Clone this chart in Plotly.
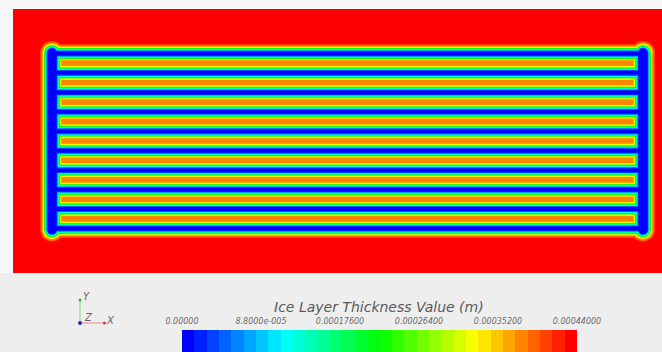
import colorsys
import numpy as np
import plotly.graph_objects as go

# ---------------- data ----------------
VMAX = 0.00044                      # max ice layer thickness (m)
N_BANDS = 32                        # discrete colour bands of the legend
TICK_VALUES = [0.0, 0.000088, 0.000176, 0.000264, 0.000352, 0.00044]
TICK_LABELS = ["0.00000", "8.8000e-005", "0.00017600", "0.00026400",
               "0.00035200", "0.00044000"]
COLORBAR_TITLE = "Ice Layer Thickness Value (m)"

# plate / tube geometry (mm)
PLATE_W = 649
PLATE_H = 264
TUBE_Y = [220.5, 201.1, 181.6, 162.2, 142.7, 123.3, 103.9, 84.4, 65.0, 45.5]
TUBE_X_START = 38
TUBE_X_END = 629
HEADER_X = [38, 629]
HEADER_Y_START = 44.5
HEADER_Y_END = 221.0
HEADER_HALF_WIDTH = 2.5

# ice thickness (fraction of max) vs distance from tube axis (mm)
PROFILE_D = [0.0, 2.0, 3.0, 4.0, 5.0, 6.0, 7.0, 7.5, 9.0, 10.0, 11.0]
PROFILE_F = [0.0, 0.04, 0.17, 0.35, 0.53, 0.70, 0.82, 0.86, 0.92, 0.97, 1.0]
INNER_CAP = 0.86                    # plateau between neighbouring tubes

# ---------------- field ----------------
xs = np.arange(0.5, PLATE_W, 1.0)
ys = np.arange(0.5, PLATE_H, 1.0)
X, Y = np.meshgrid(xs, ys)

dist = np.full(X.shape, 1e9)
dxt = np.maximum(0, np.maximum(TUBE_X_START - X, X - TUBE_X_END))
for ty in TUBE_Y:
    dist = np.minimum(dist, np.hypot(dxt, Y - ty))
dyh = np.maximum(0, np.maximum(HEADER_Y_START - Y, Y - HEADER_Y_END))
for hx in HEADER_X:
    dh = np.maximum(0, np.hypot(X - hx, dyh) - HEADER_HALF_WIDTH)
    dist = np.minimum(dist, dh)

frac = np.interp(dist, PROFILE_D, PROFILE_F)
inside = (Y > min(TUBE_Y)) & (Y < max(TUBE_Y)) & (X > TUBE_X_START) & (X < TUBE_X_END)
frac = np.where(inside, np.minimum(frac, INNER_CAP), frac)
Z = np.round(frac * VMAX, 7)

# discrete HSV rainbow (blue -> red)
colorscale = []
for k in range(N_BANDS):
    h = (240.0 * (1 - k / (N_BANDS - 1))) / 360.0
    r, g, b = colorsys.hsv_to_rgb(h, 1, 1)
    c = f"rgb({int(round(r*255))},{int(round(g*255))},{int(round(b*255))})"
    colorscale.append([k / N_BANDS, c])
    colorscale.append([(k + 1) / N_BANDS, c])

band_centers = [(k + 0.5) / N_BANDS * VMAX for k in range(N_BANDS)]

fig = go.Figure()
fig.add_trace(go.Heatmap(
    x=xs, y=ys, z=Z, colorscale=colorscale, zmin=0, zmax=VMAX,
    zsmooth="best", showscale=False, hoverinfo="skip",
    xaxis="x", yaxis="y"))
fig.add_trace(go.Heatmap(
    x=band_centers, y=[0], z=[band_centers], colorscale=colorscale,
    zmin=0, zmax=VMAX, showscale=False, hoverinfo="skip",
    xaxis="x2", yaxis="y2"))

W, H = 662, 352
label_font = dict(family="DejaVu Sans", size=10, color="#666", style="italic")
fig.update_layout(
    width=W, height=H,
    margin=dict(l=0, r=0, t=0, b=0),
    paper_bgcolor="#f7f7f7", plot_bgcolor="#ff0000",
    showlegend=False,
    xaxis=dict(domain=[13 / W, 1], range=[0, PLATE_W], visible=False, fixedrange=True),
    yaxis=dict(domain=[(H - 273) / H, (H - 9) / H], range=[0, PLATE_H],
               visible=False, fixedrange=True),
    xaxis2=dict(domain=[182 / W, 577 / W], range=[0, VMAX], anchor="y2", side="top",
                tickvals=TICK_VALUES, ticktext=TICK_LABELS,
                ticks="outside", ticklen=2, tickcolor="rgba(0,0,0,0)",
                showline=False, showgrid=False, zeroline=False, automargin=False,
                fixedrange=True,
                tickfont=dict(family="DejaVu Sans", size=8, color="#6a6a6a", style="italic")),
    yaxis2=dict(domain=[0, (H - 330) / H], range=[-0.5, 0.5], anchor="x2",
                visible=False, fixedrange=True),
    shapes=[
        dict(type="rect", xref="paper", yref="paper", x0=0, x1=1, y0=0,
             y1=(H - 273) / H, fillcolor="#eeeeee", line=dict(width=0), layer="below"),
        # orientation triad
        dict(type="line", xref="paper", yref="paper", x0=80 / W, x1=80 / W,
             y0=(H - 323) / H, y1=(H - 301) / H, line=dict(color="#a6dea6", width=1.5)),
        dict(type="line", xref="paper", yref="paper", x0=80 / W, x1=104 / W,
             y0=(H - 323) / H, y1=(H - 323) / H, line=dict(color="#f2a6a6", width=1.5)),
        dict(type="circle", xref="paper", yref="paper", x0=78.5 / W, x1=81.5 / W,
             y0=(H - 301.5) / H, y1=(H - 298.5) / H, fillcolor="#3cb43c", line=dict(width=0)),
        dict(type="circle", xref="paper", yref="paper", x0=103 / W, x1=106 / W,
             y0=(H - 324.5) / H, y1=(H - 321.5) / H, fillcolor="#d83c3c", line=dict(width=0)),
        dict(type="circle", xref="paper", yref="paper", x0=78 / W, x1=82 / W,
             y0=(H - 325) / H, y1=(H - 321) / H, fillcolor="#2a2ab0", line=dict(width=0)),
    ],
    annotations=[
        dict(text=COLORBAR_TITLE, xref="paper", yref="paper", x=379 / W, y=(H - 307) / H,
             xanchor="center", yanchor="middle", showarrow=False,
             font=dict(family="DejaVu Sans", size=14, color="#5a5a5a", style="italic")),
        dict(text="Y", xref="paper", yref="paper", x=86 / W, y=(H - 296) / H,
             xanchor="center", yanchor="middle", showarrow=False, font=label_font),
        dict(text="Z", xref="paper", yref="paper", x=88 / W, y=(H - 317) / H,
             xanchor="center", yanchor="middle", showarrow=False, font=label_font),
        dict(text="X", xref="paper", yref="paper", x=110 / W, y=(H - 320) / H,
             xanchor="center", yanchor="middle", showarrow=False, font=label_font),
    ],
)

fig.write_html("out.html", config={"displayModeBar": False, "staticPlot": True},
               post_script="document.body.style.margin='0';document.body.style.overflow='hidden';")
